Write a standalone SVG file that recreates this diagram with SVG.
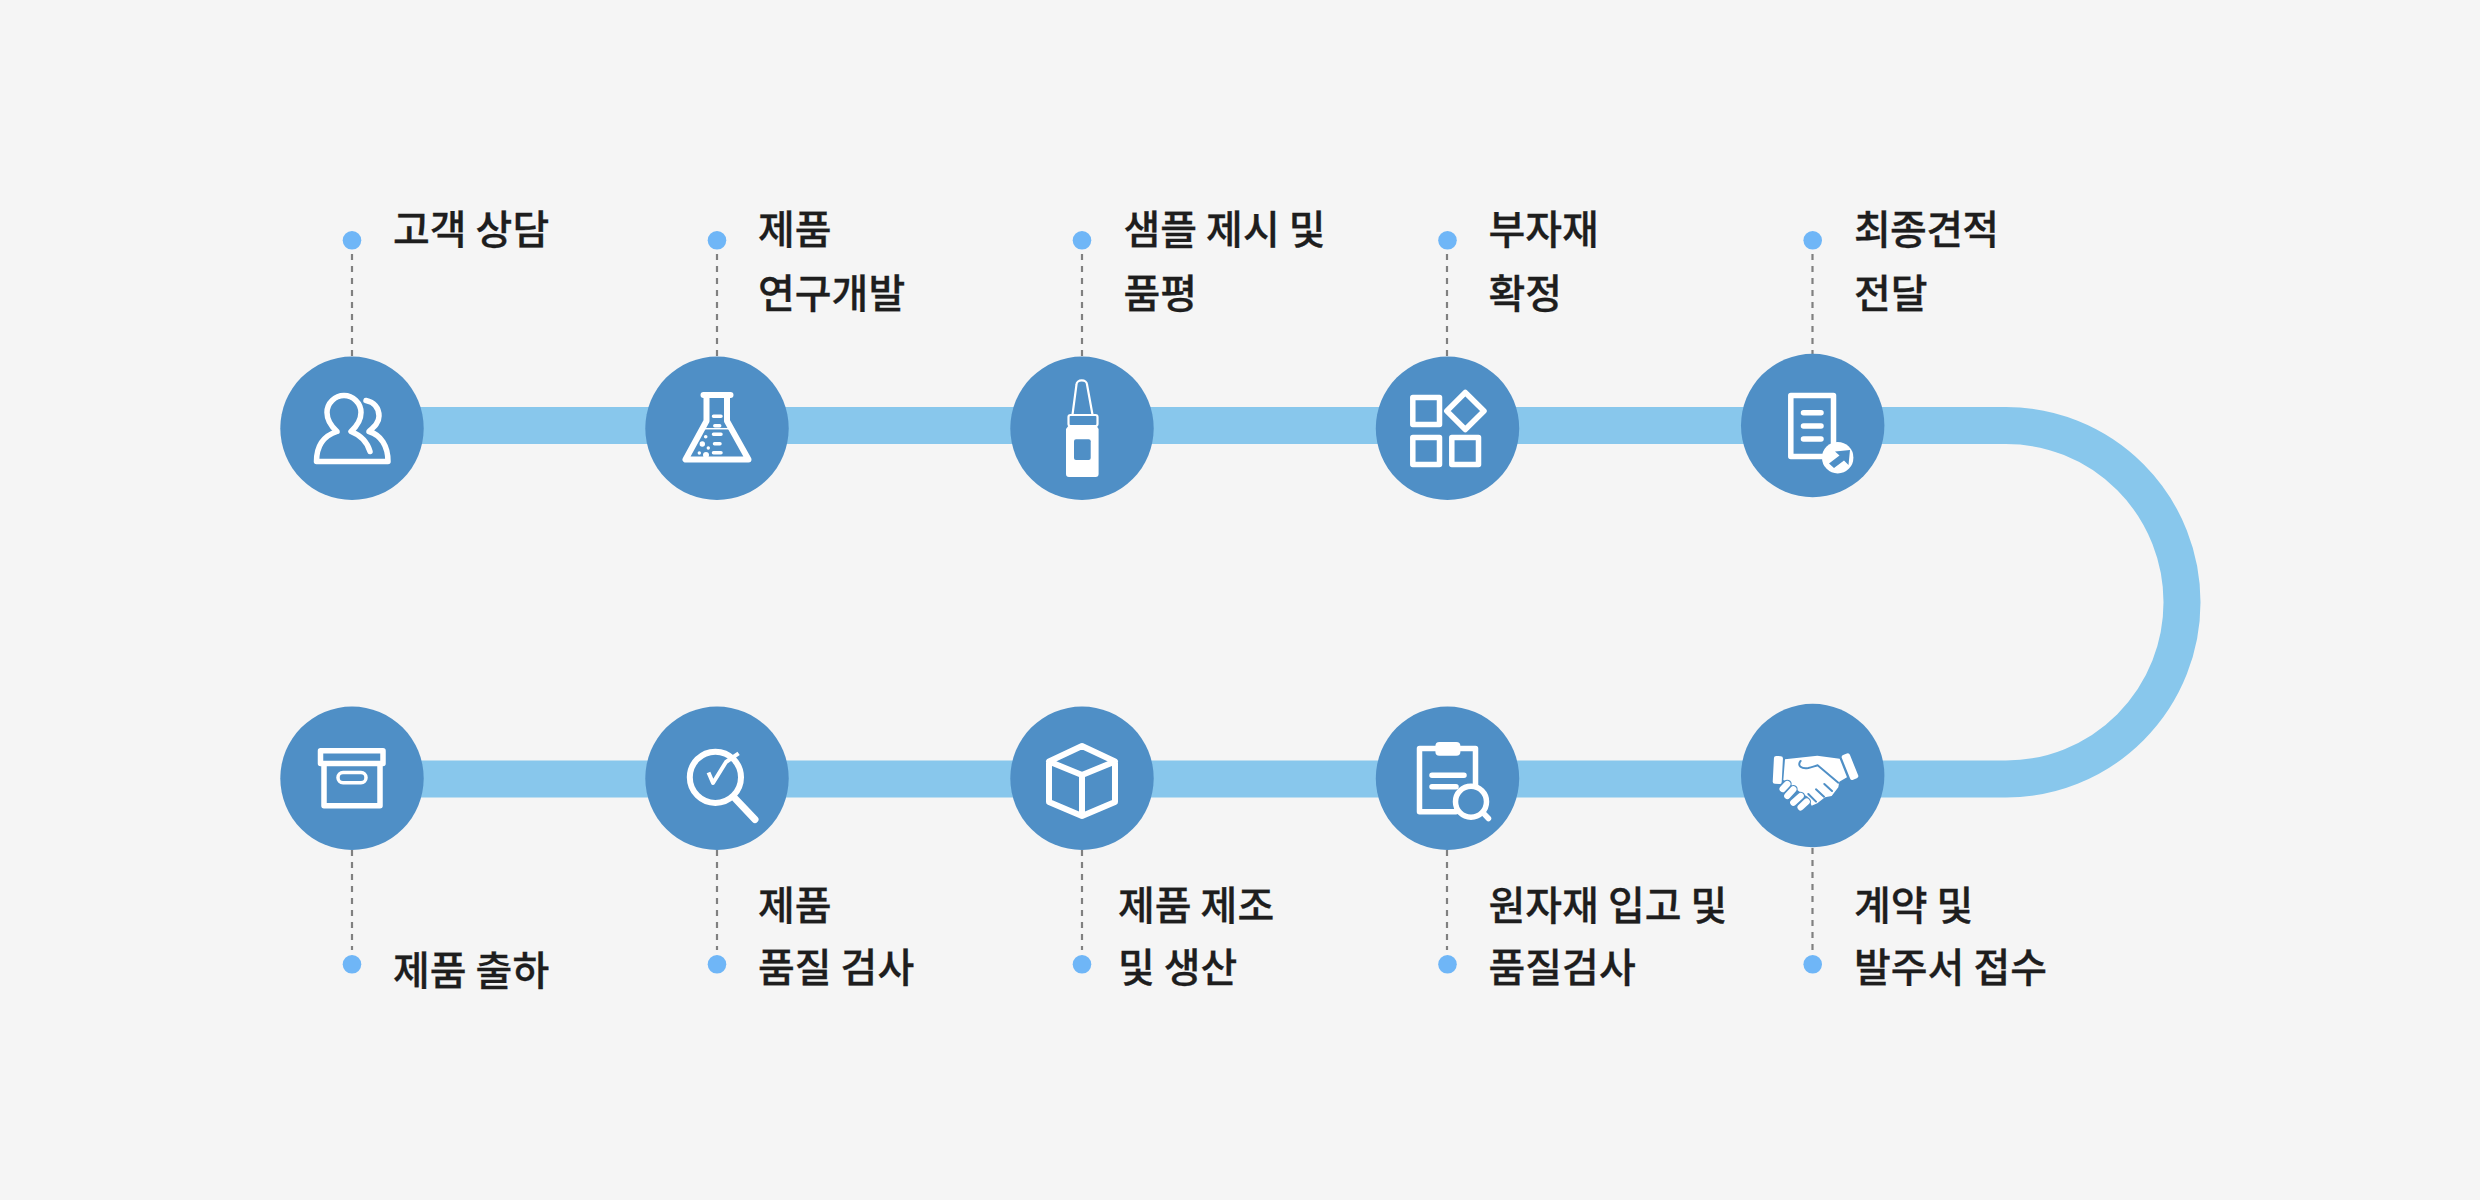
<svg xmlns="http://www.w3.org/2000/svg" width="2480" height="1200" viewBox="0 0 2480 1200">
<style>
.c{fill:#4f8fc6}
.d{fill:#6fb6f7}
.t{font-family:"Noto Sans CJK KR","Noto Sans",sans-serif;font-size:40px;font-weight:500;fill:#1e1e1e;stroke:#1e1e1e;stroke-width:.3px}
.i{fill:none;stroke:#fff;stroke-width:5.500;stroke-linejoin:round;stroke-linecap:round}
.w{fill:#fff}
.b{fill:#4f8fc6}
.dash{fill:none;stroke:#808080;stroke-width:2.200;stroke-dasharray:6 6}
</style>
<rect width="2480" height="1200" fill="#f5f5f5"/>
<g id="connectors">
<path d="M352,425.500H2006A176,176.750 0 0 1 2006,779H352" fill="none" stroke="#88c7ec" stroke-width="37"/>
<path class="dash" d="M352,254V358M717,254V358M1082,254V358M1447,254V358M1812.500,254V355"/>
<path class="dash" d="M352,850V950M717,850V950M1082,850V950M1447,850V950M1812.500,848V950"/>
</g>
<g id="n1">
<circle class="c" cx="352" cy="428.300" r="71.700"/><circle class="d" cx="352" cy="240.300" r="9.300"/>
<path class="i" d="M316.500,461.500H388C388,446 381,435 369,431.500C374,427 379,423 379,416C379,408 374,402 366,400.500M316.500,461.500C316.500,446 323,436 337,431.500C332,427 327,421 327,412.500C327,403 335,395.500 344,395.500C353,395.500 361,403 361,412.500C361,421 356,427 351,431.500C360,435 367,441 370,451.500"/>
<text class="t" x="393" y="244">고객 상담</text>
</g>
<g id="n2">
<circle class="c" cx="717" cy="428.300" r="71.700"/><circle class="d" cx="717" cy="240.300" r="9.300"/>
<path class="i" style="stroke-width:6" d="M703.500,395H730.500M706.500,395V421L685.500,459.500H748.500L727,421V395"/>
<path d="M705,428.700H729" stroke="#fff" stroke-width="1.500"/>
<path d="M713.500,416.300H721M714.800,425.700H719.700M713.500,434.300H721M714.500,443.700H720M713.500,452.700H721" stroke="#fff" stroke-width="3.500" stroke-linecap="round"/>
<circle class="w" cx="705.700" cy="436.700" r="1.800"/><circle class="w" cx="702.300" cy="444" r="2.700"/><circle class="w" cx="708.300" cy="448" r="1.700"/><circle class="w" cx="699.300" cy="453" r="1.700"/><circle class="w" cx="706" cy="455" r="3"/>
<text class="t" x="758" y="244">제품</text><text class="t" x="758" y="307.500">연구개발</text>
</g>
<g id="n3">
<circle class="c" cx="1082" cy="428.300" r="71.700"/><circle class="d" cx="1082" cy="240.300" r="9.300"/>
<path class="w" d="M1069,425H1096L1098.600,429V474A3,3 0 0 1 1095.600,477H1069A3,3 0 0 1 1066,474V429Z"/>
<rect class="b" x="1074" y="439.300" width="16.700" height="20.700" rx="2"/>
<path d="M1072.500,414.700L1076.500,384.500A5,4 0 0 1 1087,384.500L1092.500,414.700" fill="none" stroke="#fff" stroke-width="2.200"/>
<rect x="1068.500" y="415" width="29" height="11" rx="2" class="b" stroke="#fff" stroke-width="2.200"/>
<text class="t" x="1123.500" y="244">샘플 제시 및</text><text class="t" x="1123.500" y="307.500">품평</text>
</g>
<g id="n4">
<circle class="c" cx="1447.500" cy="428.300" r="71.700"/><circle class="d" cx="1447.500" cy="240.300" r="9.300"/>
<path class="i" d="M1412.800,397.500h26.700v27h-26.700zM1412.800,437.500h26.700v27h-26.700zM1451.800,437.500h26.700v27h-26.700zM1465.300,392.500L1484,411L1465.300,429.500L1446.800,411Z"/>
<text class="t" x="1488.500" y="244">부자재</text><text class="t" x="1488.500" y="307.500">확정</text>
</g>
<g id="n5">
<circle class="c" cx="1812.700" cy="425.500" r="71.700"/><circle class="d" cx="1812.700" cy="240.300" r="9.300"/>
<path class="i" d="M1790.800,395.500H1833.500V456.500H1790.800Z"/>
<path d="M1803.500,412.700H1821M1803.500,426H1821M1803.500,439H1821" stroke="#fff" stroke-width="5.500" stroke-linecap="round"/>
<circle class="w" cx="1837.700" cy="457.700" r="15.700"/>
<path class="b" d="M1850,450L1835,451.500L1839.500,455.500L1829,463.500L1834,468L1844,460.500L1848.500,465Z"/>
<text class="t" x="1854" y="244" textLength="145">최종견적</text><text class="t" x="1854" y="307.500">전달</text>
</g>
<g id="n6">
<circle class="c" cx="1812.700" cy="775.500" r="71.700"/><circle class="d" cx="1812.700" cy="964.300" r="9.300"/>
<g transform="translate(1730,690) scale(.3333)">
<rect class="w" x="130" y="198" width="27" height="84" rx="7" transform="rotate(3 143 240)"/>
<rect class="w" x="347" y="190" width="26" height="80" rx="7" transform="rotate(-22 360 230)"/>
<path class="w" d="M165,208L262,197L329,206L351,262L328,275L325,292L305,318L285,322L262,340L245,347L233,320L215,310L195,295L172,275L160,270Z"/>
<path d="M212,213C200,228 215,237 235,234C245,232 255,228 263,226L325,278M283,282L306,303M258,298L282,320M235,312L258,335" fill="none" stroke="#4f8fc6" stroke-width="6" stroke-linecap="round"/>
<path d="M158,297L172,282M172,318L190,298M190,338L212,318M212,352L230,335" stroke="#4f8fc6" stroke-width="26" stroke-linecap="round"/>
<path d="M158,297L172,282M172,318L190,298M190,338L212,318M212,352L230,335" stroke="#fff" stroke-width="19" stroke-linecap="round"/>
</g>
<text class="t" x="1854" y="920">계약 및</text><text class="t" x="1854" y="982">발주서 접수</text>
</g>
<g id="n7">
<circle class="c" cx="1447.500" cy="778.300" r="71.700"/><circle class="d" cx="1447.500" cy="964.300" r="9.300"/>
<path class="i" d="M1475.500,788V748.500H1419.500V811.800H1456M1432,775.300H1464M1432,786.700H1456M1483.600,813.300L1488.500,818.500"/>
<rect class="w" x="1435.400" y="742" width="25" height="13.700" rx="4"/>
<circle cx="1471" cy="801.700" r="15.500" class="b" stroke="#fff" stroke-width="5.500"/>
<text class="t" x="1488.500" y="920">원자재 입고 및</text><text class="t" x="1488.500" y="982">품질검사</text>
</g>
<g id="n8">
<circle class="c" cx="1082" cy="778.300" r="71.700"/><circle class="d" cx="1082" cy="964.300" r="9.300"/>
<path class="i" style="stroke-width:6" d="M1082,746L1115,761.500V802L1082,816L1049,802V761.500ZM1049,761.500L1082,775L1115,761.500M1082,775V816"/>
<text class="t" x="1118" y="920">제품 제조</text><text class="t" x="1118" y="982">및 생산</text>
</g>
<g id="n9">
<circle class="c" cx="717" cy="778.300" r="71.700"/><circle class="d" cx="717" cy="964.300" r="9.300"/>
<circle cx="715.400" cy="777.300" r="25.600" fill="none" stroke="#fff" stroke-width="6"/>
<path d="M735,798.300L755,819.500" fill="none" stroke="#fff" stroke-width="7" stroke-linecap="round"/>
<path d="M708.500,772.500L713,783L726,762L738.600,753.300" fill="none" stroke="#fff" stroke-width="4" stroke-linejoin="round"/>
<text class="t" x="758" y="920">제품</text><text class="t" x="758" y="982">품질 검사</text>
</g>
<g id="n10">
<circle class="c" cx="352" cy="778.300" r="71.700"/><circle class="d" cx="352" cy="964.300" r="9.300"/>
<path class="i" d="M320.500,750.800H383V763.500H320.500ZM324,763.500V805.800H380V763.500"/>
<rect x="338" y="772.400" width="28" height="10.300" rx="5" fill="none" stroke="#fff" stroke-width="3.500"/>
<text class="t" x="393" y="985">제품 출하</text>
</g>
</svg>
